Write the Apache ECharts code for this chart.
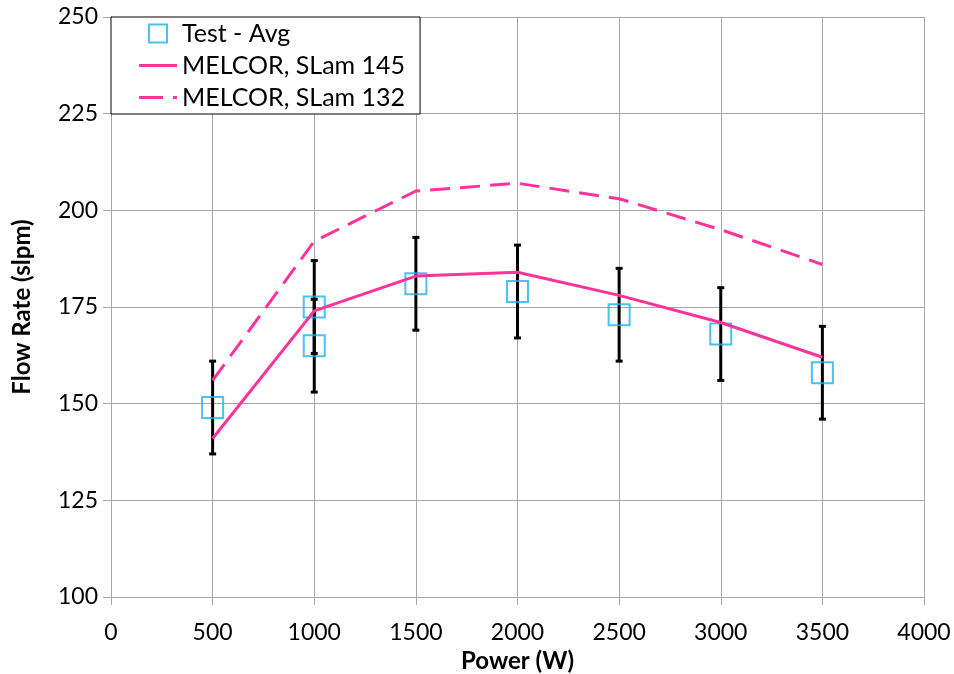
<!DOCTYPE html>
<html>
<head>
<meta charset="utf-8">
<script src="https://cdn.jsdelivr.net/npm/echarts@6/dist/echarts.min.js"></script>
<style>
html,body{margin:0;padding:0;background:#fff;}
#c{width:954px;height:674px;}
</style>
</head>
<body>
<div id="c"></div>
<script>
// Data
var testPower = [500, 1000, 1000, 1500, 2000, 2500, 3000, 3500];
var testAvg   = [149, 175, 165, 181, 179, 173, 168, 158];
var testErr   = [12, 12, 12, 12, 12, 12, 12, 12];

var melPower  = [500, 1000, 1500, 2000, 2500, 3000, 3500];
var slam145   = [141, 174, 183, 184, 178, 171, 162];
var slam132   = [156, 192, 205, 207, 203, 195, 186];

var xTicks = {min: 0, max: 4000, interval: 500};
var yTicks = {min: 100, max: 250, interval: 25};

var FONT = 'Lato';
var PINK = '#ff3399';
var CYAN = '#1eb2e8';
var GRID = '#a6a6a6';

var errData = testPower.map(function (p, i) {
  return [p, testAvg[i] - testErr[i], testAvg[i] + testErr[i]];
});
var avgData = testPower.map(function (p, i) { return [p, testAvg[i]]; });
var s145 = melPower.map(function (p, i) { return [p, slam145[i]]; });
var s132 = melPower.map(function (p, i) { return [p, slam132[i]]; });

var SOLID_ICON = 'path://M0,0L38,0L38,3L0,3Z';
var DASH_ICON = 'path://M0,0L24,0L24,3L0,3ZM34,0L38,0L38,3L34,3Z';

var chart = echarts.init(document.getElementById('c'), null, {renderer: 'canvas'});
chart.setOption({
  animation: false,
  backgroundColor: '#fff',
  grid: {left: 111, right: 30, top: 17, bottom: 77, containLabel: false, outerBoundsMode: 'none'},
  xAxis: {
    type: 'value', min: xTicks.min, max: xTicks.max, interval: xTicks.interval,
    name: 'Power (W)', nameLocation: 'middle', nameGap: 51,
    nameTextStyle: {fontFamily: FONT, fontSize: 24, fontWeight: 'bold', color: '#000'},
    axisLine: {show: true, lineStyle: {color: GRID, width: 1}},
    axisTick: {show: true, length: 8, lineStyle: {color: GRID}},
    axisLabel: {fontFamily: FONT, fontSize: 23, color: '#000', margin: 24,
      formatter: function (v) { return String(v); }},
    splitLine: {show: true, lineStyle: {color: GRID, width: 1}}
  },
  yAxis: {
    type: 'value', min: yTicks.min, max: yTicks.max, interval: yTicks.interval,
    name: 'Flow Rate (slpm)', nameLocation: 'middle', nameGap: 77, nameRotate: 90,
    nameTextStyle: {fontFamily: FONT, fontSize: 24, fontWeight: 'bold', color: '#000'},
    axisLine: {show: true, lineStyle: {color: GRID, width: 1}},
    axisTick: {show: true, length: 8, lineStyle: {color: GRID}},
    axisLabel: {fontFamily: FONT, fontSize: 23, color: '#000', margin: 13},
    splitLine: {show: true, lineStyle: {color: GRID, width: 1}}
  },
  legend: {
    left: 111, top: 17, orient: 'vertical',
    backgroundColor: '#fff', borderColor: '#000', borderWidth: 1,
    padding: [4, 15, 4, 28],
    itemWidth: 38, itemHeight: 18, itemGap: 7,
    textStyle: {fontFamily: FONT, fontSize: 25, color: '#000'},
    z: 10,
    data: [
      {name: 'Test - Avg'},
      {name: 'MELCOR, SLam 145', icon: SOLID_ICON, itemStyle: {color: PINK, borderWidth: 0}},
      {name: 'MELCOR, SLam 132', icon: DASH_ICON, itemStyle: {color: PINK, borderWidth: 0}}
    ]
  },
  series: [
    {
      name: 'err', type: 'custom', z: 3, silent: true,
      data: errData,
      renderItem: function (params, api) {
        var x = api.value(0);
        var lo = api.coord([x, api.value(1)]);
        var hi = api.coord([x, api.value(2)]);
        var cap = 3.5;
        var st = {stroke: '#000', lineWidth: 3};
        return {
          type: 'group',
          children: [
            {type: 'line', shape: {x1: lo[0], y1: lo[1], x2: hi[0], y2: hi[1]}, style: st},
            {type: 'line', shape: {x1: lo[0] - cap, y1: lo[1], x2: lo[0] + cap, y2: lo[1]}, style: st},
            {type: 'line', shape: {x1: hi[0] - cap, y1: hi[1], x2: hi[0] + cap, y2: hi[1]}, style: st}
          ]
        };
      }
    },
    {
      name: 'Test - Avg', type: 'scatter', z: 4,
      data: avgData,
      symbol: 'path://M0,0L10,0L10,10L0,10Z', symbolKeepAspect: true, symbolSize: 21,
      itemStyle: {color: 'rgba(255,255,255,0)', borderColor: CYAN, borderWidth: 2}
    },
    {
      name: 'MELCOR, SLam 145', type: 'line', z: 5,
      data: s145, symbol: 'none', showSymbol: false, symbolKeepAspect: true,
      lineStyle: {color: PINK, width: 3}, itemStyle: {color: PINK}
    },
    {
      name: 'MELCOR, SLam 132', type: 'line', z: 5,
      data: s132, symbol: 'none', showSymbol: false, symbolKeepAspect: true,
      lineStyle: {color: PINK, width: 3, type: [20, 10]}, itemStyle: {color: PINK}
    }
  ]
});
</script>
</body>
</html>
